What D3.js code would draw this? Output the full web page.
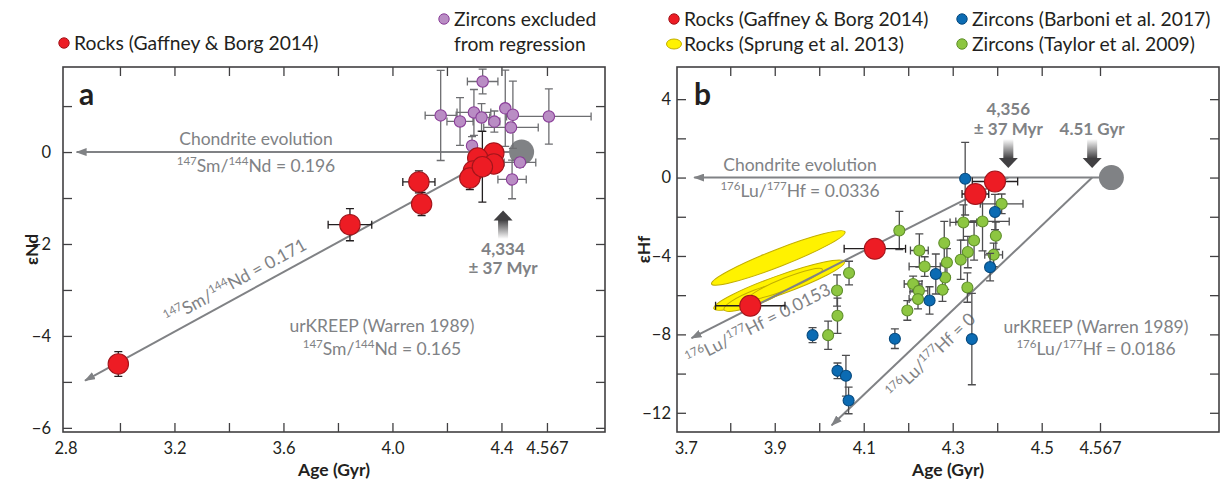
<!DOCTYPE html>
<html>
<head>
<meta charset="utf-8">
<script src="https://cdn.jsdelivr.net/npm/d3@7"></script>
<style>
  body { margin: 0; background: #fff; }
  svg { display: block; font-family: Lato, "Open Sans", sans-serif; }
</style>
</head>
<body>
<svg id="chart" width="1223" height="483"></svg>
<script>
// ---------------- Panel a: Sm–Nd ----------------
// Rocks (Gaffney & Borg 2014): age (Gyr), εNd, 1σ errors
const ndRockAge    = [2.994, 3.844, 4.097, 4.107, 4.372, 4.313, 4.372, 4.297, 4.284, 4.330];
const ndRockEps    = [-4.61, -1.58, -0.65, -1.13, -0.02, -0.13, -0.26, -0.41, -0.565, -0.32];
const ndRockAgeErr = [0, 0.080, 0.059, 0.030, 0.020, 0.030, 0.030, 0.030, 0.030, 0];
const ndRockEpsErr = [0.27, 0.35, 0.24, 0.25, 0.20, 0.20, 0.20, 0.20, 0.25, 0.77];

// Zircons excluded from regression
const ndZirAge    = [4.177, 4.331, 4.248, 4.299, 4.327, 4.374, 4.414, 4.442, 4.574, 4.435, 4.292, 4.468, 4.439];
const ndZirEps    = [0.796, 1.535, 0.665, 0.861, 0.752, 0.663, 0.952, 0.811, 0.774, 0.535, 0.137, -0.226, -0.596];
const ndZirAgeErr = [0.057, 0.056, 0.048, 0.062, 0.030, 0.020, 0, 0, 0.155, 0.100, 0, 0.058, 0.052];
const ndZirEpsErr = [0.98, 0.27, 0.52, 0.50, 0.30, 0.23, 0.83, 0.73, 0.60, 0.10, 0.20, 0.10, 0.42];

// Reference evolution lines (age, εNd at each end)
const ndChondrite  = { start: [4.474, 0], end: [2.841, 0] };
const ndRegression = { start: [4.406, 0], end: [2.872, -4.97] };
const ndModelAge   = { label: "4,334", err: "± 37 Myr" };

const ndXTickLabels = [2.8, 3.2, 3.6, 4.0, 4.4, 4.567];
const ndXTickMarks  = [3.0, 3.2, 3.4, 3.6, 3.8, 4.0, 4.2, 4.4, 4.567];
const ndYTickLabels = [0, -2, -4, -6];
const ndYTickMarks  = [1, 0, -1, -2, -3, -4, -5, -6];

// ---------------- Panel b: Lu–Hf ----------------
// Rocks (Gaffney & Borg 2014)
const hfRockAge    = [3.845, 4.125, 4.351, 4.395];
const hfRockEps    = [-6.54, -3.63, -0.84, -0.20];
const hfRockAgeErr = [0.078, 0.069, 0.030, 0.051];
const hfRockEpsErr = [0, 0, 0.30, 0.30];

// Rocks (Sprung et al. 2013): error ellipses — centre, half-extent of the long axis, minor/major ratio
const sprungAge     = [3.908, 3.910, 3.859, 3.925];
const sprungEps     = [-4.10, -5.49, -6.10, -5.42];
const sprungAgeHalf = [0.150, 0.147, 0.073, 0.082];
const sprungEpsHalf = [1.33, 1.20, 0.64, 0.74];
const sprungRatio   = [0.12, 0.135, 0.21, 0.15];

// Zircons (Barboni et al. 2017)
const barboniAge    = [4.328, 4.395, 4.262, 4.384, 4.248, 4.170, 4.343, 3.985, 4.041, 4.060, 4.066];
const barboniEps    = [-0.06, -1.76, -4.92, -4.57, -6.27, -8.22, -8.24, -8.04, -9.86, -10.11, -11.37];
const barboniAgeErr = [0, 0, 0, 0, 0, 0, 0, 0, 0, 0, 0];
const barboniEpsErr = [1.85, 0.90, 1.02, 0.70, 0.70, 0.50, 2.33, 0.38, 0.40, 1.04, 0.68];

// Zircons (Taylor et al. 2009)
const taylorAge    = [4.180, 4.324, 4.367, 4.410, 4.397, 4.348, 4.281, 4.225, 4.334, 4.392, 4.287, 4.318,
                      4.237, 4.283, 4.211, 4.224, 4.277, 4.222, 4.198, 4.333, 4.067, 4.040, 4.041, 4.020];
const taylorEps    = [-2.70, -2.29, -2.24, -1.34, -2.97, -3.21, -3.34, -3.72, -3.80, -3.94, -4.33, -4.19,
                      -4.54, -5.10, -5.43, -5.78, -5.72, -6.20, -6.78, -5.61, -4.87, -5.76, -7.05, -8.04];
const taylorAgeErr = [0, 0.030, 0.060, 0.048, 0, 0, 0, 0.020, 0, 0.020, 0, 0,
                      0.035, 0, 0.020, 0.020, 0, 0.020, 0, 0, 0, 0, 0, 0];
const taylorEpsErr = [0.97, 0.90, 1.50, 0.50, 0.70, 1.00, 1.10, 0.85, 0.80, 0.60, 0.70, 1.00,
                      0.50, 0.60, 0.40, 0.50, 0.60, 0.50, 0.50, 0.75, 0.60, 0.80, 0.90, 0.72];

const hfChondrite = { start: [4.580, 0], end: [3.719, 0] };
const hfUrkreep   = { start: [4.425, 0], end: [3.713, -8.19] };
const hfZeroLuHf  = { start: [4.558, 0], end: [4.028, -12.64] };
const hfModelAge  = { label: "4,356", err: "± 37 Myr" };
const hfSolarAge  = { label: "4.51 Gyr" };

const hfXTickLabels = [3.7, 3.9, 4.1, 4.3, 4.5, 4.567];
const hfXTickMarks  = [3.8, 3.9, 4.0, 4.1, 4.2, 4.3, 4.4, 4.5, 4.567];
const hfYTickLabels = [4, 0, -4, -8, -12];
const hfYTickMarks  = [4, 2, 0, -2, -4, -6, -8, -10, -12];

// ---------------- styling ----------------
const C = {
  frame: "#414042", text: "#231f20", note: "#808285", line: "#808285",
  red: "#ed1c24", redStroke: "#a3151b",
  purple: "#b98dc4", purpleStroke: "#8a3e99",
  blue: "#0b6bb3", blueStroke: "#07497d",
  green: "#8dc641", greenStroke: "#5f8f2a",
  yellow: "#fff200", yellowStroke: "#c2ae00",
  grayDot: "#808285", bar: "#4d4d4f", barLight: "#6d6e71"
};
const NOTE_SIZE = 17.5;

const svg = d3.select("#chart");
const defs = svg.append("defs");

defs.append("marker")
  .attr("id", "lineHead").attr("viewBox", "0 0 11 8")
  .attr("refX", 10).attr("refY", 4)
  .attr("markerUnits", "userSpaceOnUse")
  .attr("markerWidth", 11).attr("markerHeight", 8)
  .attr("orient", "auto")
  .append("path").attr("d", "M0,0 L11,4 L0,8 Z").attr("fill", C.line);

function shaftGradient(id, darkAtTop) {
  const g = defs.append("linearGradient").attr("id", id)
    .attr("x1", 0).attr("y1", 0).attr("x2", 0).attr("y2", 1);
  g.append("stop").attr("offset", "0%").attr("stop-color", darkAtTop ? "#414042" : "#ffffff");
  g.append("stop").attr("offset", "100%").attr("stop-color", darkAtTop ? "#ffffff" : "#414042");
}
shaftGradient("shaftDown", false);
shaftGradient("shaftUp", true);

const minus = v => (v < 0 ? "\u2212" + Math.abs(v) : String(v));

// text with superscript isotope numbers: parts = [[text, isSup], ...]
function richText(sel, parts, size) {
  let raised = false;
  parts.forEach(([t, sup]) => {
    const ts = sel.append("tspan").text(t);
    if (sup) {
      ts.attr("font-size", size * 0.66);
      if (!raised) { ts.attr("dy", -size * 0.38); raised = true; }
    } else {
      ts.attr("font-size", size);
      if (raised) { ts.attr("dy", size * 0.38); raised = false; }
    }
  });
  return sel;
}

function frameAndAxes(g, x, y, box, o) {
  const [x0, x1, y0, y1] = box;
  g.append("g").attr("transform", `translate(0,${y1})`)
    .call(d3.axisBottom(x).tickValues(o.xMarks).tickSize(-9).tickFormat(""));
  g.append("g").attr("transform", `translate(0,${y0})`)
    .call(d3.axisTop(x).tickValues(o.xMarks).tickSize(-9).tickFormat(""));
  g.append("g").attr("transform", `translate(${x0},0)`)
    .call(d3.axisLeft(y).tickValues(o.yMarks).tickSize(-9).tickFormat(""));
  g.append("g").attr("transform", `translate(${x1},0)`)
    .call(d3.axisRight(y).tickValues(o.yMarks).tickSize(-9).tickFormat(""));
  g.append("g").attr("transform", `translate(0,${y1})`)
    .call(d3.axisBottom(x).tickValues(o.xLabels).tickSize(0).tickPadding(10)
      .tickFormat(d => o.xFmt(d)));
  g.append("g").attr("transform", `translate(${x0},0)`)
    .call(d3.axisLeft(y).tickValues(o.yLabels).tickSize(0).tickPadding(o.yPad)
      .tickFormat(minus));
  g.selectAll(".domain").remove();
  g.selectAll(".tick line").attr("stroke", C.frame).attr("stroke-width", 1.3);
  g.selectAll(".tick text").attr("font-family", "Lato, sans-serif")
    .attr("font-size", 16.5).attr("fill", C.text);
  g.append("rect").attr("x", x0).attr("y", y0)
    .attr("width", x1 - x0).attr("height", y1 - y0)
    .attr("fill", "none").attr("stroke", C.frame).attr("stroke-width", 1.6);
  g.append("text").attr("x", (x0 + x1) / 2).attr("y", 476)
    .attr("text-anchor", "middle").attr("font-weight", 700).attr("font-size", 17.5)
    .attr("fill", C.text).text("Age (Gyr)");
  g.append("text")
    .attr("transform", `translate(${o.yTitleX},${(y0 + y1) / 2}) rotate(-90)`)
    .attr("text-anchor", "middle").attr("font-weight", 700).attr("font-size", 17.5)
    .attr("fill", C.text).text(o.yTitle);
  g.append("text").attr("x", x0 + o.letterDx).attr("y", 105)
    .attr("font-weight", 700).attr("font-size", 30).attr("fill", C.text).text(o.letter);
}

function refLine(g, x, y, ln) {
  g.append("line")
    .attr("x1", x(ln.start[0])).attr("y1", y(ln.start[1]))
    .attr("x2", x(ln.end[0])).attr("y2", y(ln.end[1]))
    .attr("stroke", C.line).attr("stroke-width", 2)
    .attr("marker-end", "url(#lineHead)");
}

// rotated label along a line: centred at the given age, shifted off px along the upward normal
function lineLabel(g, x, y, ln, atAge, off, parts, size) {
  const px0 = x(ln.start[0]), py0 = y(ln.start[1]);
  const px1 = x(ln.end[0]), py1 = y(ln.end[1]);
  const ang = Math.atan2(py0 - py1, px0 - px1);
  const f = (atAge - ln.end[0]) / (ln.start[0] - ln.end[0]);
  const cx = px1 + f * (px0 - px1), cy = py1 + f * (py0 - py1);
  const nx = Math.sin(ang), ny = -Math.cos(ang);
  const t = g.append("text")
    .attr("transform", `translate(${cx + nx * off},${cy + ny * off}) rotate(${ang * 180 / Math.PI})`)
    .attr("text-anchor", "middle").attr("fill", C.note);
  richText(t, parts, size);
}

function errorBars(g, x, y, ages, eps, aErr, eErr, color) {
  const cap = 4;
  g.append("g").selectAll("path").data(d3.range(ages.length)).join("path")
    .attr("d", i => {
      const p = d3.path();
      const cx = x(ages[i]), cy = y(eps[i]);
      if (aErr[i] > 0) {
        const xa = x(ages[i] - aErr[i]), xb = x(ages[i] + aErr[i]);
        p.moveTo(xa, cy); p.lineTo(xb, cy);
        p.moveTo(xa, cy - cap); p.lineTo(xa, cy + cap);
        p.moveTo(xb, cy - cap); p.lineTo(xb, cy + cap);
      }
      if (eErr[i] > 0) {
        const ya = y(eps[i] - eErr[i]), yb = y(eps[i] + eErr[i]);
        p.moveTo(cx, ya); p.lineTo(cx, yb);
        p.moveTo(cx - cap, ya); p.lineTo(cx + cap, ya);
        p.moveTo(cx - cap, yb); p.lineTo(cx + cap, yb);
      }
      return p.toString();
    })
    .attr("fill", "none").attr("stroke", color).attr("stroke-width", 1.3);
}

function dots(g, x, y, ages, eps, r, fill, stroke) {
  g.append("g").selectAll("circle").data(d3.range(ages.length)).join("circle")
    .attr("cx", i => x(ages[i])).attr("cy", i => y(eps[i])).attr("r", r)
    .attr("fill", fill).attr("stroke", stroke).attr("stroke-width", 1.1);
}

// block arrow with a fading shaft; tip at (tx, ty), pointing up or down
function blockArrow(g, tx, ty, dir) {
  const head = 10, hw = 9.5, sw = 5, len = 29;
  if (dir === "down") {
    g.append("rect").attr("x", tx - sw).attr("y", ty - len).attr("width", sw * 2)
      .attr("height", len - head + 0.5).attr("fill", "url(#shaftDown)");
    g.append("path").attr("d", `M${tx - hw},${ty - head} L${tx + hw},${ty - head} L${tx},${ty} Z`)
      .attr("fill", "#414042");
  } else {
    g.append("rect").attr("x", tx - sw).attr("y", ty + head - 0.5).attr("width", sw * 2)
      .attr("height", len - head).attr("fill", "url(#shaftUp)");
    g.append("path").attr("d", `M${tx - hw},${ty + head} L${tx + hw},${ty + head} L${tx},${ty} Z`)
      .attr("fill", "#414042");
  }
}

function note(g, px, py, str, opts = {}) {
  return g.append("text").attr("x", px).attr("y", py)
    .attr("text-anchor", opts.anchor || "middle")
    .attr("font-size", opts.size || NOTE_SIZE).attr("font-weight", opts.weight || 400)
    .attr("fill", C.note).text(str);
}

// ================= Panel a =================
const boxA = [63, 605, 67, 432];
const xA = d3.scaleLinear().domain([2.791, 4.78]).range([boxA[0], boxA[1]]);
const yA = d3.scaleLinear().domain([-6.09, 1.85]).range([boxA[3], boxA[2]]);
const gA = svg.append("g");

frameAndAxes(gA, xA, yA, boxA, {
  xMarks: ndXTickMarks, xLabels: ndXTickLabels, yMarks: ndYTickMarks, yLabels: ndYTickLabels,
  xFmt: d => (d === 4.567 ? "4.567" : d.toFixed(1)), yPad: 12,
  yTitle: "\u03b5Nd", yTitleX: 38, letter: "a", letterDx: 16
});

refLine(gA, xA, yA, ndChondrite);
refLine(gA, xA, yA, ndRegression);
gA.append("circle").attr("cx", xA(ndChondrite.start[0])).attr("cy", yA(ndChondrite.start[1]))
  .attr("r", 12.5).attr("fill", C.grayDot);

note(gA, 256, 145, "Chondrite evolution");
richText(gA.append("text").attr("x", 256).attr("y", 172).attr("text-anchor", "middle").attr("fill", C.note),
  [["147", true], ["Sm/", false], ["144", true], ["Nd = 0.196", false]], NOTE_SIZE);
lineLabel(gA, xA, yA, ndRegression, 3.45, 9,
  [["147", true], ["Sm/", false], ["144", true], ["Nd = 0.171", false]], NOTE_SIZE);
note(gA, 382, 332, "urKREEP (Warren 1989)");
richText(gA.append("text").attr("x", 382).attr("y", 355).attr("text-anchor", "middle").attr("fill", C.note),
  [["147", true], ["Sm/", false], ["144", true], ["Nd = 0.165", false]], NOTE_SIZE);

errorBars(gA, xA, yA, ndZirAge, ndZirEps, ndZirAgeErr, ndZirEpsErr, C.barLight);
dots(gA, xA, yA, ndZirAge, ndZirEps, 5.7, C.purple, C.purpleStroke);
errorBars(gA, xA, yA, ndRockAge, ndRockEps, ndRockAgeErr, ndRockEpsErr, C.text);
dots(gA, xA, yA, ndRockAge, ndRockEps, 10.2, C.red, C.redStroke);

{
  const ax = xA(ndRegression.start[0]);
  blockArrow(gA, ax, yA(-1.27), "up");
  note(gA, ax, 255, ndModelAge.label, { weight: 700, size: 17 });
  note(gA, ax, 274, ndModelAge.err, { weight: 700, size: 17 });
}

// ================= Panel b =================
const boxB = [677, 1219, 67, 432];
const xB = d3.scaleLinear().domain([3.681, 4.5, 4.567, 4.703]).range([677.3, 1041.7, 1100, 1219]);
const yB = d3.scaleLinear().domain([-12.98, 5.64]).range([boxB[3], boxB[2]]);
const gB = svg.append("g");

frameAndAxes(gB, xB, yB, boxB, {
  xMarks: hfXTickMarks, xLabels: hfXTickLabels, yMarks: hfYTickMarks, yLabels: hfYTickLabels,
  xFmt: d => (d === 4.567 ? "4.567" : d.toFixed(1)), yPad: 6,
  yTitle: "\u03b5Hf", yTitleX: 650, letter: "b", letterDx: 17
});

// Sprung et al. ellipses
gB.append("g").selectAll("ellipse").data(d3.range(sprungAge.length)).join("ellipse")
  .each(function (i) {
    const cx = xB(sprungAge[i]), cy = yB(sprungEps[i]);
    const ex = xB(sprungAge[i] + sprungAgeHalf[i]) - cx;
    const ey = yB(sprungEps[i] + sprungEpsHalf[i]) - cy;
    const a = Math.hypot(ex, ey);
    d3.select(this)
      .attr("cx", 0).attr("cy", 0).attr("rx", a).attr("ry", a * sprungRatio[i])
      .attr("transform", `translate(${cx},${cy}) rotate(${Math.atan2(ey, ex) * 180 / Math.PI})`);
  })
  .attr("fill", C.yellow).attr("stroke", C.yellowStroke).attr("stroke-width", 1);

refLine(gB, xB, yB, hfChondrite);
refLine(gB, xB, yB, hfUrkreep);
refLine(gB, xB, yB, hfZeroLuHf);
gB.append("circle").attr("cx", xB(hfChondrite.start[0])).attr("cy", yB(hfChondrite.start[1]))
  .attr("r", 12.5).attr("fill", C.grayDot);

note(gB, 800, 171, "Chondrite evolution");
richText(gB.append("text").attr("x", 800).attr("y", 197).attr("text-anchor", "middle").attr("fill", C.note),
  [["176", true], ["Lu/", false], ["177", true], ["Hf = 0.0336", false]], NOTE_SIZE);
lineLabel(gB, xB, yB, hfUrkreep, 3.845, -24,
  [["176", true], ["Lu/", false], ["177", true], ["Hf = 0.0153", false]], NOTE_SIZE);
lineLabel(gB, xB, yB, hfZeroLuHf, 4.205, -24,
  [["176", true], ["Lu/", false], ["177", true], ["Hf = 0", false]], NOTE_SIZE);
note(gB, 1096, 333, "urKREEP (Warren 1989)");
richText(gB.append("text").attr("x", 1096).attr("y", 355).attr("text-anchor", "middle").attr("fill", C.note),
  [["176", true], ["Lu/", false], ["177", true], ["Hf = 0.0186", false]], NOTE_SIZE);

errorBars(gB, xB, yB, taylorAge, taylorEps, taylorAgeErr, taylorEpsErr, C.bar);
dots(gB, xB, yB, taylorAge, taylorEps, 5.5, C.green, C.greenStroke);
errorBars(gB, xB, yB, barboniAge, barboniEps, barboniAgeErr, barboniEpsErr, C.bar);
dots(gB, xB, yB, barboniAge, barboniEps, 5.5, C.blue, C.blueStroke);
errorBars(gB, xB, yB, hfRockAge, hfRockEps, hfRockAgeErr, hfRockEpsErr, C.text);
dots(gB, xB, yB, hfRockAge, hfRockEps, 10.5, C.red, C.redStroke);

{
  const ax1 = xB(hfUrkreep.start[0]);
  blockArrow(gB, ax1, yB(0) - 9.5, "down");
  note(gB, ax1, 115, hfModelAge.label, { weight: 700, size: 17 });
  note(gB, ax1, 135, hfModelAge.err, { weight: 700, size: 17 });
  const ax2 = xB(hfZeroLuHf.start[0]);
  blockArrow(gB, ax2, yB(0) - 9.5, "down");
  note(gB, ax2, 135, hfSolarAge.label, { weight: 700, size: 17 });
}

// ================= Legends =================
const legendA = [
  { kind: "circle", fill: C.red, stroke: C.redStroke, x: 64, y: 43, lines: ["Rocks (Gaffney & Borg 2014)"] },
  { kind: "circle", fill: C.purple, stroke: C.purpleStroke, x: 444, y: 19, lines: ["Zircons excluded", "from regression"] }
];
const legendB = [
  { kind: "circle", fill: C.red, stroke: C.redStroke, x: 674, y: 19, lines: ["Rocks (Gaffney & Borg 2014)"] },
  { kind: "ellipse", fill: C.yellow, stroke: C.yellowStroke, x: 674, y: 44, lines: ["Rocks (Sprung et al. 2013)"] },
  { kind: "circle", fill: C.blue, stroke: C.blueStroke, x: 962, y: 19, lines: ["Zircons (Barboni et al. 2017)"] },
  { kind: "circle", fill: C.green, stroke: C.greenStroke, x: 962, y: 44, lines: ["Zircons (Taylor et al. 2009)"] }
];
function legend(items) {
  const g = svg.append("g");
  items.forEach(it => {
    if (it.kind === "ellipse") {
      g.append("ellipse").attr("cx", it.x).attr("cy", it.y).attr("rx", 7.5).attr("ry", 5)
        .attr("fill", it.fill).attr("stroke", it.stroke).attr("stroke-width", 1);
    } else {
      g.append("circle").attr("cx", it.x).attr("cy", it.y).attr("r", 5.2)
        .attr("fill", it.fill).attr("stroke", it.stroke).attr("stroke-width", 1);
    }
    it.lines.forEach((s, k) => {
      g.append("text").attr("x", it.x + 10).attr("y", it.y + 6.5 + k * 25)
        .attr("font-size", 19.3).attr("fill", C.text).text(s);
    });
  });
}
legend(legendA);
legend(legendB);
</script>
</body>
</html>
